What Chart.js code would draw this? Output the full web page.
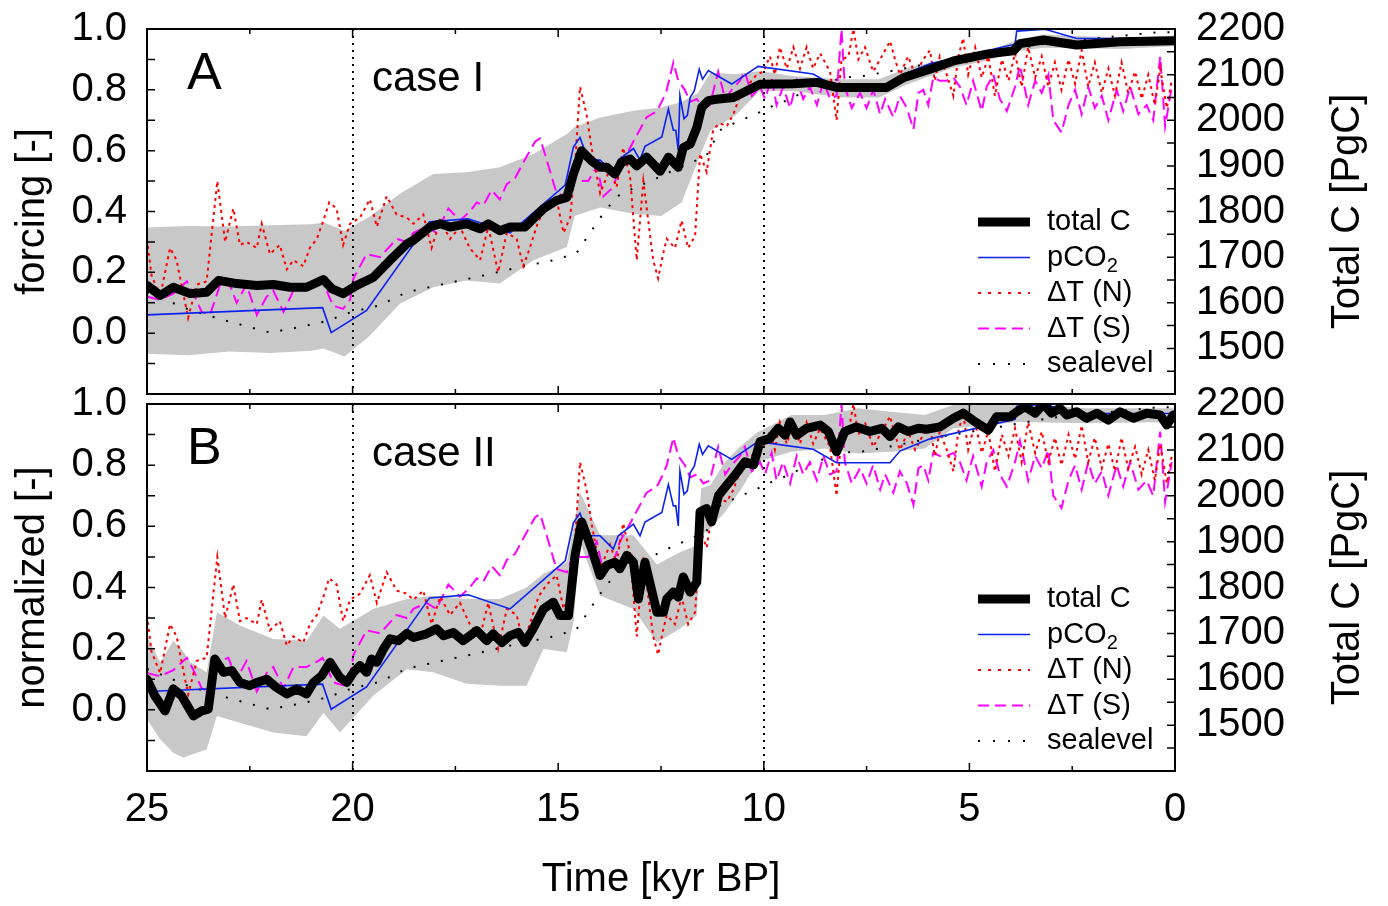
<!DOCTYPE html>
<html lang="en">
<head>
<meta charset="UTF-8">
<title>Total C and forcing</title>
<script src="https://cdn.jsdelivr.net/npm/chart.js"></script>
<style>
  body { margin: 0; background: #fff; overflow: hidden; }
  #wrap { position: relative; width: 1388px; height: 906px; overflow: hidden; }
  canvas { position: absolute; left: 0; }
</style>
</head>
<body>
<div id="wrap">
  <canvas id="chartA" width="1388" height="460" style="top:-16px"></canvas>
  <canvas id="chartB" width="1388" height="566" style="top:340px"></canvas>
</div>

<script>
// ---- data (time in kyr BP, forcings normalized, total C in PgC) ----
const co2Time = [25, 20.73, 20.52, 19.66, 18.13, 17.19, 16.17, 14.83, 14.63, 14.47, 14.27, 13.98, 13.66, 13.54, 13.17, 13.01, 12.89, 12.48, 12.32, 12.2, 12.14, 12.08, 12.04, 11.94, 11.86, 11.79, 11.69, 11.57, 11.49, 11.35, 10.78, 10.14, 8.8, 8.23, 6.93, 6.69, 5.96, 3.89, 3.85, 3.16, 2.39, 0];
const co2Val  = [0.06, 0.084, 0.002, 0.075, 0.366, 0.376, 0.33, 0.487, 0.612, 0.643, 0.569, 0.569, 0.526, 0.569, 0.607, 0.569, 0.614, 0.645, 0.737, 0.667, 0.667, 0.601, 0.781, 0.705, 0.716, 0.775, 0.797, 0.868, 0.835, 0.863, 0.819, 0.877, 0.852, 0.808, 0.808, 0.846, 0.886, 0.95, 0.993, 0.999, 0.969, 0.969];

const seaTime = [25, 23.95, 23.05, 22.01, 21.28, 20.63, 20.06, 19.33, 18.68, 17.63, 16.9, 16.01, 15.04, 14.55, 14.23, 13.98, 13.58, 13.25, 12.61, 12.28, 11.96, 11.63, 11.39, 11.07, 10.74, 10.09, 9.77, 9.44, 8.8, 8.07, 7.6, 6.85, 6.04, 4.5, 3.0, 1.34, 0.53, 0];
const seaVal  = [0.134, 0.076, 0.04, 0.002, 0.02, 0.04, 0.068, 0.092, 0.135, 0.166, 0.187, 0.215, 0.242, 0.264, 0.329, 0.379, 0.449, 0.471, 0.509, 0.53, 0.549, 0.569, 0.585, 0.667, 0.689, 0.727, 0.748, 0.765, 0.808, 0.841, 0.845, 0.863, 0.885, 0.92, 0.955, 0.977, 0.988, 0.99];

const tsTime = [24.99, 24.68, 24.36, 24.03, 23.87, 23.67, 23.47, 23.22, 23.02, 22.82, 22.58, 22.33, 22.09, 21.93, 21.68, 21.44, 21.12, 20.83, 20.73, 20.47, 20.23, 20.06, 19.98, 19.66, 19.33, 18.93, 18.68, 18.52, 18.2, 17.96, 17.67, 17.39, 17.15, 16.98, 16.82, 16.62, 16.42, 16.25, 16.05, 15.77, 15.56, 15.44, 15.28, 15.04, 14.79, 14.63, 14.47, 14.27, 14.06, 13.9, 13.66, 13.5, 13.33, 13.17, 12.85, 12.6, 12.45, 12.36, 12.2, 12.08, 11.92, 11.79, 11.63, 11.47, 11.31, 11.11, 10.94, 10.78, 10.58, 10.46, 10.29, 10.09, 9.97, 9.81, 9.69, 9.53, 9.36, 9.2, 9.04, 8.88, 8.71, 8.55, 8.39, 8.23, 8.11, 8.03, 7.86, 7.66, 7.5, 7.34, 7.17, 7.05, 6.85, 6.69, 6.52, 6.36, 6.24, 6.12, 6.0, 5.88, 5.72, 5.55, 5.39, 5.23, 5.07, 4.91, 4.7, 4.58, 4.42, 4.26, 4.09, 3.89, 3.77, 3.57, 3.4, 3.24, 3.08, 2.96, 2.76, 2.59, 2.43, 2.27, 2.11, 1.95, 1.78, 1.62, 1.42, 1.26, 1.09, 0.89, 0.69, 0.53, 0.36, 0.24, 0.08];
const tsVal  = [0.12, 0.11, 0.13, 0.17, 0.13, 0.07, 0.06, 0.16, 0.17, 0.10, 0.16, 0.06, 0.12, 0.14, 0.07, 0.14, 0.14, 0.16, 0.17, 0.09, 0.08, 0.11, 0.18, 0.26, 0.25, 0.31, 0.30, 0.33, 0.35, 0.33, 0.41, 0.37, 0.40, 0.43, 0.42, 0.47, 0.44, 0.49, 0.51, 0.58, 0.63, 0.64, 0.57, 0.46, 0.45, 0.51, 0.50, 0.50, 0.55, 0.45, 0.48, 0.55, 0.59, 0.63, 0.71, 0.73, 0.77, 0.80, 0.89, 0.83, 0.80, 0.76, 0.77, 0.74, 0.75, 0.86, 0.77, 0.80, 0.83, 0.86, 0.78, 0.81, 0.77, 0.84, 0.75, 0.81, 0.74, 0.83, 0.77, 0.81, 0.75, 0.83, 0.77, 0.78, 1.00, 0.81, 0.74, 0.79, 0.74, 0.80, 0.72, 0.77, 0.71, 0.78, 0.74, 0.67, 0.79, 0.80, 0.75, 0.84, 0.83, 0.83, 0.84, 0.81, 0.75, 0.83, 0.73, 0.81, 0.85, 0.77, 0.73, 0.81, 0.88, 0.75, 0.83, 0.79, 0.85, 0.70, 0.66, 0.75, 0.80, 0.72, 0.81, 0.74, 0.78, 0.70, 0.80, 0.73, 0.81, 0.72, 0.75, 0.70, 0.91, 0.68, 0.81];

const tnTime = [25, 24.89, 24.68, 24.44, 24.28, 24.0, 23.79, 23.55, 23.29, 23.1, 22.9, 22.74, 22.58, 22.33, 22.21, 22.01, 21.77, 21.6, 21.44, 21.2, 21.04, 20.87, 20.71, 20.57, 20.39, 20.23, 20.06, 19.82, 19.58, 19.41, 19.17, 18.93, 18.68, 18.52, 18.28, 18.08, 17.87, 17.63, 17.39, 17.15, 16.9, 16.7, 16.46, 16.25, 16.01, 15.85, 15.69, 15.48, 15.28, 15.04, 14.87, 14.71, 14.59, 14.47, 14.31, 14.19, 13.98, 13.74, 13.58, 13.42, 13.25, 13.09, 12.93, 12.69, 12.57, 12.45, 12.36, 12.16, 12.0, 11.84, 11.67, 11.55, 11.39, 11.23, 11.07, 10.9, 10.74, 10.58, 10.42, 10.17, 10.01, 9.85, 9.73, 9.61, 9.44, 9.28, 9.12, 8.96, 8.8, 8.63, 8.39, 8.23, 8.11, 7.94, 7.82, 7.7, 7.54, 7.34, 7.13, 6.93, 6.81, 6.69, 6.49, 6.32, 6.12, 5.96, 5.84, 5.72, 5.55, 5.39, 5.27, 5.15, 5.03, 4.86, 4.7, 4.54, 4.38, 4.21, 4.05, 3.89, 3.73, 3.57, 3.4, 3.24, 3.08, 2.92, 2.76, 2.59, 2.43, 2.27, 2.11, 1.95, 1.78, 1.62, 1.46, 1.3, 1.14, 0.97, 0.81, 0.65, 0.49, 0.36, 0.2, 0.08];
const tnVal  = [0.31, 0.19, 0.12, 0.28, 0.24, 0.05, 0.16, 0.17, 0.50, 0.30, 0.41, 0.29, 0.30, 0.28, 0.36, 0.26, 0.29, 0.21, 0.24, 0.22, 0.28, 0.31, 0.37, 0.43, 0.41, 0.29, 0.36, 0.38, 0.44, 0.35, 0.45, 0.39, 0.38, 0.36, 0.39, 0.28, 0.37, 0.31, 0.35, 0.28, 0.24, 0.35, 0.20, 0.33, 0.31, 0.22, 0.28, 0.37, 0.41, 0.44, 0.33, 0.38, 0.55, 0.81, 0.72, 0.61, 0.46, 0.54, 0.48, 0.61, 0.51, 0.24, 0.50, 0.24, 0.18, 0.26, 0.31, 0.28, 0.37, 0.28, 0.32, 0.59, 0.53, 0.67, 0.69, 0.68, 0.72, 0.78, 0.81, 0.85, 0.86, 0.91, 0.85, 0.94, 0.87, 0.94, 0.87, 0.94, 0.87, 0.92, 0.86, 0.70, 0.90, 0.91, 1.00, 0.90, 0.94, 0.86, 0.91, 0.96, 0.90, 0.85, 0.91, 0.85, 0.90, 0.93, 0.83, 0.91, 0.85, 0.78, 0.91, 0.97, 0.85, 0.94, 0.84, 0.91, 0.78, 0.90, 0.83, 0.92, 0.81, 0.94, 0.84, 0.91, 0.81, 0.89, 0.80, 0.90, 0.82, 0.93, 0.81, 0.89, 0.79, 0.87, 0.78, 0.89, 0.79, 0.86, 0.77, 0.85, 0.75, 0.87, 0.74, 0.83];

// case I
const totalTimeA = [25, 24.68, 24.36, 23.95, 23.55, 23.26, 22.82, 22.33, 21.93, 21.52, 21.12, 20.71, 20.51, 20.23, 19.9, 19.49, 19.09, 18.68, 18.52, 18.12, 17.87, 17.63, 17.23, 16.9, 16.7, 16.42, 16.17, 15.81, 15.36, 15.04, 14.79, 14.63, 14.43, 14.19, 13.98, 13.82, 13.62, 13.46, 13.25, 13.09, 12.85, 12.52, 12.32, 12.08, 11.96, 11.79, 11.63, 11.51, 11.35, 11.15, 10.74, 10.42, 10.09, 9.28, 8.71, 8.23, 7.01, 6.61, 5.96, 5.39, 4.58, 3.93, 3.77, 3.2, 2.39, 1.34, 0];
const totalValA  = [1638, 1616, 1634, 1620, 1623, 1649, 1642, 1638, 1640, 1634, 1634, 1651, 1631, 1620, 1638, 1656, 1693, 1729, 1737, 1766, 1773, 1766, 1773, 1762, 1773, 1758, 1766, 1766, 1806, 1824, 1831, 1882, 1933, 1911, 1897, 1897, 1882, 1908, 1915, 1900, 1919, 1888, 1919, 1897, 1940, 1948, 1984, 2028, 2043, 2046, 2050, 2064, 2079, 2080, 2083, 2072, 2072, 2093, 2112, 2130, 2145, 2152, 2168, 2176, 2165, 2172, 2174];
const bandTimeA = [25, 24, 23, 22, 21, 20.7, 20.2, 19.6, 18.85, 18.04, 17.23, 16.42, 15.6, 14.79, 14.6, 13.98, 13.17, 12.5, 12.0, 11.6, 11.3, 10.7, 10.1, 9.3, 8.1, 7.2, 6.5, 5.4, 4.6, 3.8, 3.2, 1.3, 0];
const bandHighA = [1765, 1768, 1767, 1770, 1772, 1776, 1758, 1788, 1839, 1882, 1886, 1897, 1926, 1970, 1985, 2006, 2021, 2028, 2040, 2060, 2104, 2101, 2108, 2097, 2090, 2090, 2115, 2137, 2150, 2177, 2188, 2181, 2185];
const bandLowA  = [1488, 1485, 1493, 1490, 1495, 1500, 1482, 1526, 1598, 1634, 1649, 1642, 1693, 1722, 1790, 1809, 1795, 1790, 1820, 1911, 1977, 2010, 2064, 2064, 2050, 2050, 2079, 2115, 2130, 2152, 2159, 2156, 2163];

// case II
const totalTimeB = [25, 24.81, 24.56, 24.36, 24.16, 23.87, 23.67, 23.51, 23.35, 23.14, 22.94, 22.74, 22.5, 22.33, 22.09, 21.85, 21.6, 21.36, 21.12, 20.95, 20.75, 20.55, 20.31, 20.14, 19.98, 19.82, 19.66, 19.54, 19.41, 19.25, 19.09, 18.89, 18.68, 18.52, 18.2, 17.96, 17.79, 17.55, 17.31, 16.98, 16.74, 16.58, 16.37, 16.17, 15.97, 15.81, 15.61, 15.36, 15.12, 14.96, 14.75, 14.59, 14.43, 14.19, 13.98, 13.82, 13.62, 13.5, 13.33, 13.17, 13.05, 12.89, 12.6, 12.44, 12.36, 12.2, 12.08, 11.96, 11.79, 11.63, 11.55, 11.39, 11.27, 11.1, 10.9, 10.7, 10.46, 10.25, 10.09, 9.85, 9.65, 9.48, 9.36, 9.2, 8.96, 8.63, 8.43, 8.23, 8.03, 7.75, 7.42, 7.13, 6.93, 6.73, 6.49, 6.24, 6.04, 5.72, 5.39, 5.15, 4.86, 4.54, 4.34, 4.01, 3.85, 3.65, 3.4, 3.2, 3.0, 2.8, 2.63, 2.39, 2.15, 1.9, 1.62, 1.34, 1.01, 0.69, 0.36, 0.2, 0.04];
const totalValB  = [1600, 1564, 1531, 1579, 1564, 1520, 1531, 1535, 1644, 1615, 1619, 1593, 1586, 1593, 1600, 1582, 1568, 1579, 1568, 1593, 1608, 1637, 1604, 1593, 1615, 1630, 1615, 1644, 1637, 1666, 1688, 1684, 1700, 1691, 1699, 1710, 1695, 1702, 1684, 1706, 1684, 1699, 1680, 1695, 1702, 1680, 1710, 1753, 1768, 1739, 1739, 1870, 1943, 1885, 1826, 1848, 1855, 1841, 1870, 1855, 1775, 1855, 1746, 1746, 1775, 1790, 1779, 1823, 1790, 1812, 1965, 1972, 1943, 2001, 2023, 2045, 2074, 2067, 2118, 2125, 2147, 2132, 2161, 2132, 2147, 2154, 2140, 2096, 2140, 2150, 2140, 2147, 2129, 2150, 2140, 2147, 2145, 2150, 2169, 2180, 2161, 2143, 2172, 2172, 2183, 2194, 2180, 2200, 2180, 2191, 2176, 2183, 2169, 2180, 2165, 2183, 2169, 2180, 2176, 2154, 2176];
const bandTimeB = [25, 24.68, 24.36, 24.11, 23.95, 23.55, 23.3, 22.74, 21.93, 21.12, 20.71, 20.31, 19.5, 18.68, 18.04, 17.23, 16.42, 15.77, 15.36, 14.79, 14.63, 14.47, 13.98, 13.17, 12.6, 12.04, 11.63, 11.52, 11.3, 10.94, 10.54, 10.14, 9.33, 8.52, 7.71, 6.9, 6.09, 5.39, 3.77, 2.15, 0];
const bandHighB = [1695, 1637, 1684, 1660, 1637, 1615, 1746, 1717, 1688, 1684, 1739, 1710, 1753, 1775, 1782, 1775, 1775, 1800, 1830, 1855, 1930, 2008, 1914, 1914, 1850, 1877, 1892, 2016, 2023, 2074, 2110, 2139, 2176, 2176, 2191, 2183, 2176, 2198, 2200, 2191, 2191];
const bandLowB  = [1513, 1469, 1440, 1429, 1435, 1447, 1520, 1505, 1484, 1476, 1527, 1484, 1564, 1622, 1615, 1590, 1586, 1586, 1666, 1659, 1724, 1899, 1782, 1753, 1680, 1710, 1739, 1914, 1928, 1965, 2016, 2074, 2096, 2103, 2092, 2096, 2103, 2147, 2161, 2158, 2161];

const dottedMarks = [20, 10];

const FONT = '"Liberation Sans", Arial, Helvetica, sans-serif';

function pts(t, v) {
    return t.map((x, i) => ({ x: x, y: v[i] }));
}

// frame, inward ticks, dotted markers, panel text and legend
const decor = {
    id: 'decor',
    afterDatasetsDraw(chart, args, opts) {
        const ctx = chart.ctx;
        const a = chart.chartArea;
        const xs = chart.scales.x, ys = chart.scales.y, y2 = chart.scales.y2;
        ctx.save();

        // dotted verticals
        ctx.strokeStyle = '#000';
        ctx.lineWidth = 2;
        ctx.setLineDash([2, 5]);
        dottedMarks.forEach(m => {
            const px = Math.round(xs.getPixelForValue(m));
            ctx.beginPath();
            ctx.moveTo(px, a.top);
            ctx.lineTo(px, a.bottom);
            ctx.stroke();
        });
        ctx.setLineDash([]);

        // ticks
        ctx.lineWidth = 1.5;
        ctx.beginPath();
        for (let k = 0; k <= 25; k += 2.5) {
            const px = xs.getPixelForValue(k);
            const len = (k % 5 === 0) ? 8 : 5;
            ctx.moveTo(px, a.bottom); ctx.lineTo(px, a.bottom - len);
            ctx.moveTo(px, a.top); ctx.lineTo(px, a.top + len);
        }
        for (let i = -2; i <= 10; i++) {
            const py = ys.getPixelForValue(i / 10);
            ctx.moveTo(a.left, py); ctx.lineTo(a.left + 8, py);
        }
        for (let c = 1400; c <= 2200; c += 50) {
            const py = y2.getPixelForValue(c);
            ctx.moveTo(a.right, py); ctx.lineTo(a.right - 8, py);
        }
        ctx.stroke();

        // frame
        ctx.lineWidth = 2;
        ctx.strokeRect(a.left, a.top, a.right - a.left, a.bottom - a.top);

        // panel letter and case
        ctx.fillStyle = '#000';
        ctx.textAlign = 'left';
        ctx.textBaseline = 'alphabetic';
        ctx.font = '52px ' + FONT;
        ctx.fillText(opts.letter, a.left + 40, a.top + 60);
        ctx.font = '42px ' + FONT;
        ctx.fillText(opts.caseText, 372, a.top + 62);

        // legend
        const rows = chart.data.datasets.filter(d => d.legendText);
        ctx.font = '29px ' + FONT;
        ctx.textBaseline = 'middle';
        rows.forEach((d, i) => {
            const yy = a.bottom - 172 + i * 35.5;
            ctx.strokeStyle = d.borderColor;
            ctx.lineWidth = d.legendWidth || d.borderWidth;
            ctx.setLineDash(d.legendDash || []);
            ctx.beginPath();
            ctx.moveTo(a.right - 197, yy);
            ctx.lineTo(a.right - 145, yy);
            ctx.stroke();
            ctx.setLineDash([]);
            ctx.fillStyle = '#000';
            ctx.fillText(d.legendText, a.right - 128, yy);
            if (d.legendSub) {
                const w = ctx.measureText(d.legendText).width;
                ctx.font = '20px ' + FONT;
                ctx.fillText(d.legendSub, a.right - 128 + w, yy + 9);
                ctx.font = '29px ' + FONT;
            }
        });

        // right axis title, reading bottom to top
        ctx.font = '40px ' + FONT;
        ctx.textAlign = 'center';
        ctx.translate(1348, (a.top + a.bottom) / 2);
        ctx.rotate(-Math.PI / 2);
        ctx.fillText('Total C [PgC]', 0, 0);
        ctx.restore();
    }
};

function makeDatasets(cTime, cVal, bTime, bLow, bHigh) {
    return [
        { legendText: 'total C', data: pts(cTime, cVal), yAxisID: 'y2', borderColor: '#000', borderWidth: 9,
          borderJoinStyle: 'round', borderCapStyle: 'round', legendWidth: 9 },
        { legendText: 'pCO', legendSub: '2', data: pts(co2Time, co2Val), yAxisID: 'y', borderColor: '#0a22f0', borderWidth: 1.6 },
        { legendText: 'ΔT (N)', data: pts(tnTime, tnVal), yAxisID: 'y', borderColor: '#ff0000', borderWidth: 2,
          borderDash: [3, 4], legendDash: [3, 7] },
        { legendText: 'ΔT (S)', data: pts(tsTime, tsVal), yAxisID: 'y', borderColor: '#ff00ff', borderWidth: 2,
          borderDash: [12, 6], legendDash: [11, 6] },
        { legendText: 'sealevel', data: pts(seaTime, seaVal), yAxisID: 'y', borderColor: '#000', borderWidth: 2,
          borderDash: [2, 12], legendDash: [2, 13] },
        { data: pts(bTime, bHigh), yAxisID: 'y2', borderWidth: 0, borderColor: 'rgba(0,0,0,0)',
          backgroundColor: '#c8c8c8', fill: '+1' },
        { data: pts(bTime, bLow), yAxisID: 'y2', borderWidth: 0, borderColor: 'rgba(0,0,0,0)', fill: false }
    ];
}

function makeOptions(p) {
    return {
        responsive: false,
        animation: false,
        events: [],
        layout: { autoPadding: false, padding: { top: p.padTop, bottom: 0, left: 0, right: 0 } },
        elements: { point: { radius: 0 }, line: { tension: 0 } },
        plugins: {
            legend: { display: false },
            tooltip: { enabled: false },
            decor: { letter: p.letter, caseText: p.caseText }
        },
        scales: {
            x: {
                type: 'linear', min: 0, max: 25, reverse: true,
                grid: { display: false, drawTicks: false }, border: { display: false },
                ticks: { display: p.showX, stepSize: 5, padding: 15, maxRotation: 0, autoSkip: false, color: '#000',
                         font: { family: FONT, size: 40 } },
                title: { display: p.showX, text: 'Time [kyr BP]', color: '#000',
                         font: { family: FONT, size: 40 }, padding: { top: 0, bottom: 2 } },
                afterFit: s => { s.height = p.xHeight; }
            },
            y: {
                position: 'left', min: -0.2, max: 1.0,
                grid: { display: false, drawTicks: false }, border: { display: false },
                ticks: { stepSize: 0.2, padding: 20, autoSkip: false, color: '#000', font: { family: FONT, size: 40 },
                         callback: v => (Math.abs(v) < 1e-6 ? 0 : v).toFixed(1) },
                afterBuildTicks: s => { s.ticks = s.ticks.filter(t => t.value > -0.05); },
                title: { display: true, text: p.yTitle, color: '#000',
                         font: { family: FONT, size: 40 }, padding: { top: 9, bottom: 0 } },
                afterFit: s => { s.width = 147; }
            },
            y2: {
                position: 'right', min: 1400, max: 2200,
                grid: { display: false, drawTicks: false }, border: { display: false },
                ticks: { stepSize: 100, padding: 21, autoSkip: false, color: '#000', font: { family: FONT, size: 40 },
                         callback: v => String(v) },
                afterBuildTicks: s => { s.ticks = s.ticks.filter(t => t.value >= 1500); },
                afterFit: s => { s.width = 213; }
            }
        }
    };
}

new Chart(document.getElementById('chartA'), {
    type: 'line',
    data: { datasets: makeDatasets(totalTimeA, totalValA, bandTimeA, bandLowA, bandHighA) },
    options: makeOptions({ padTop: 0, xHeight: 50, showX: false, letter: 'A', caseText: 'case I', yTitle: 'forcing [-]' }),
    plugins: [decor]
});

new Chart(document.getElementById('chartB'), {
    type: 'line',
    data: { datasets: makeDatasets(totalTimeB, totalValB, bandTimeB, bandLowB, bandHighB) },
    options: makeOptions({ padTop: 64, xHeight: 135, showX: true, letter: 'B', caseText: 'case II', yTitle: 'normalized [-]' }),
    plugins: [decor]
});
</script>
</body>
</html>
